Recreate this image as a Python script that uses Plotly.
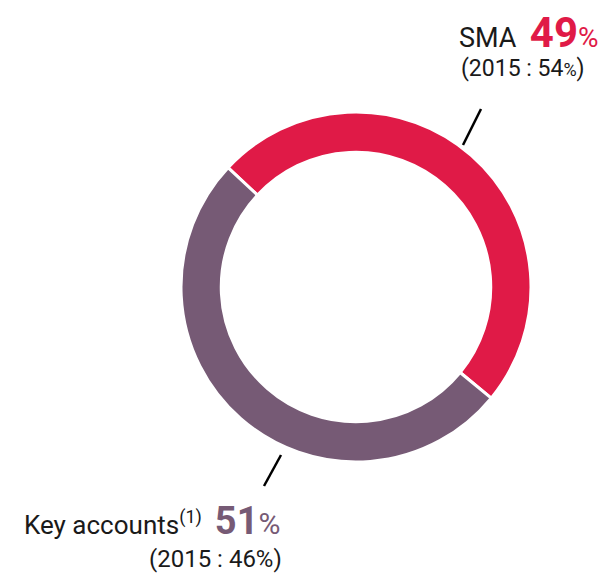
import plotly.graph_objects as go

labels = ["SMA", "Key accounts"]
values = [49, 51]
prev_values = [54, 46]
colors = ["#E01A47", "#765A75"]

W, H = 610, 573

def px(x):
    return x / W

def py(y):
    return 1 - y / H

fig = go.Figure(go.Pie(
    labels=labels,
    values=values,
    hole=0.77,
    sort=False,
    direction="clockwise",
    rotation=-47,
    marker=dict(colors=colors, line=dict(color="white", width=3)),
    textinfo="none",
    hoverinfo="skip",
    showlegend=False,
    domain=dict(x=[px(173), px(523)], y=[py(454), py(104)]),
))

FONT = "Roboto"
TXT = "#1a1a1a"

annotations = [
    dict(x=px(449), y=py(24), xanchor="left", yanchor="middle", showarrow=False,
         text=(f"<span style='color:{TXT};font-size:27px'>{labels[0]}  </span><b>{values[0]}</b>"
               f"<span style='font-size:28px'>%</span>"),
         font=dict(family=FONT, size=42, color=colors[0])),
    dict(x=px(451), y=py(61), xanchor="left", yanchor="middle", showarrow=False,
         text=f"(2015 : {prev_values[0]}<span style='font-size:18px'>%</span>)",
         font=dict(family=FONT, size=23, color=TXT)),
    dict(x=px(274), y=py(513), xanchor="right", yanchor="middle", showarrow=False,
         text=(f"{labels[1]}<sup style='font-size:17px'>(1)</sup>  <b><span style='color:{colors[1]};font-size:38px'>{values[1]}</span></b>"
               f"<span style='color:{colors[1]};font-size:30px'>%</span>"),
         font=dict(family=FONT, size=26, color=TXT)),
    dict(x=px(276), y=py(551), xanchor="right", yanchor="middle", showarrow=False,
         text=f"(2015 : {prev_values[1]}%)",
         font=dict(family=FONT, size=24, color=TXT)),
]

shapes = [
    dict(type="line", xref="paper", yref="paper",
         x0=px(455), y0=py(137), x1=px(473), y1=py(101),
         line=dict(color="black", width=2.5)),
    dict(type="line", xref="paper", yref="paper",
         x0=px(273), y0=py(447), x1=px(256), y1=py(478),
         line=dict(color="black", width=2.5)),
]

fig.update_layout(
    width=W, height=H,
    margin=dict(l=0, r=0, t=0, b=0),
    paper_bgcolor="white",
    plot_bgcolor="white",
    annotations=annotations,
    shapes=shapes,
)

fig.write_html("out.html")
